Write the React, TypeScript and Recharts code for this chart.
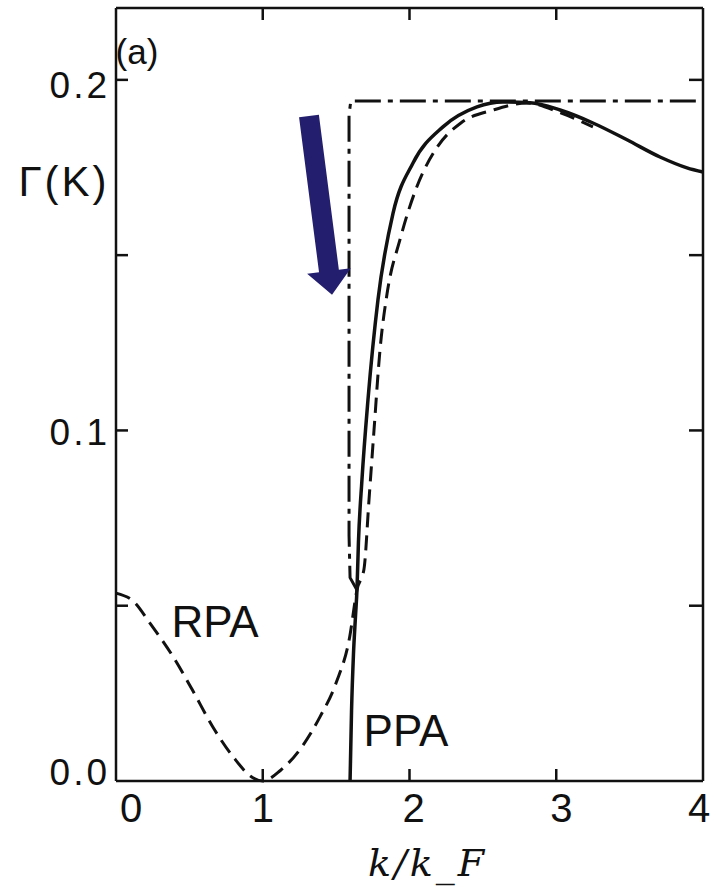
import React from 'react';
import { LineChart, Line, XAxis, YAxis, ReferenceLine, ReferenceDot } from 'recharts';

// RPA curve (dashed)
const rpaK = [0, 0.12, 0.23, 0.39, 0.52, 0.66, 0.8, 0.93, 1.0, 1.12, 1.25, 1.39, 1.5, 1.592, 1.642, 1.69, 1.724, 1.758, 1.799, 1.847, 1.935, 2.05, 2.19, 2.35, 2.57, 2.8, 3.03, 3.25];
const rpaG = [0.0536, 0.0512, 0.0451, 0.0354, 0.026, 0.0154, 0.0068, 0.001, 0, 0.003, 0.0088, 0.0183, 0.028, 0.041, 0.0545, 0.0605, 0.0802, 0.1, 0.123, 0.139, 0.1544, 0.1695, 0.1809, 0.1877, 0.1914, 0.1934, 0.1906, 0.1866];

// PPA curve (solid)
const ppaK = [1.595, 1.605, 1.618, 1.632, 1.642, 1.652, 1.676, 1.717, 1.785, 1.888, 2.024, 2.228, 2.46, 2.637, 2.821, 3.026, 3.25, 3.482, 3.707, 3.891, 4.0];
const ppaG = [0, 0.02, 0.036, 0.047, 0.0545, 0.068, 0.0859, 0.1087, 0.1372, 0.162, 0.1763, 0.1866, 0.1923, 0.1937, 0.1935, 0.1914, 0.1877, 0.1829, 0.178, 0.1749, 0.1737];

// dash-dot step curve
const stepK = [1.642, 1.595, 1.588, 1.588, 1.6, 4.0];
const stepG = [0.0545, 0.058, 0.07, 0.19, 0.194, 0.194];

const xTicks = [0, 1, 2, 3, 4];
const xTickLabels = ['0', '1', '2', '3', '4'];
const yTicks = [0, 0.05, 0.1, 0.15, 0.2];
const yTickLabels = ['0.0', '', '0.1', '', '0.2'];
const innerTicksX = [1, 2, 3];
const innerTicksY = [0.05, 0.1, 0.15, 0.2];

const rpaData = rpaK.map((k, i) => ({ k, g: rpaG[i] }));
const ppaData = ppaK.map((k, i) => ({ k, g: ppaG[i] }));
const stepData = stepK.map((k, i) => ({ k, g: stepG[i] }));

const INK = '#111';
const FONT = '"Liberation Sans", Arial, sans-serif';
const AXIS = { stroke: INK, strokeWidth: 2.5 };
const MARGIN = { top: 8, right: 13, bottom: 0, left: 16 };

// bottom labels + inward ticks on the bottom and top frame edges
const BottomTick = (props: any) => {
  const { x, y, payload } = props;
  const i = xTicks.indexOf(payload.value);
  const shift = [15, 0, 4, 5, -4][i] ?? 0;
  const inner = innerTicksX.includes(payload.value);
  return (
    <g>
      {inner && <line x1={x} x2={x} y1={y} y2={y - 12} stroke={INK} strokeWidth={2.5} />}
      {inner && <line x1={x} x2={x} y1={MARGIN.top} y2={MARGIN.top + 12} stroke={INK} strokeWidth={2.5} />}
      <text x={x + shift} y={y + 41} textAnchor="middle" fontSize={40} fontFamily={FONT} fill={INK}>
        {xTickLabels[i]}
      </text>
    </g>
  );
};

const LeftTick = (props: any) => {
  const { x, y, payload } = props;
  const i = yTicks.indexOf(payload.value);
  const dy = [4, 0, 15, 0, 18][i] ?? 12;
  return (
    <g>
      {innerTicksY.includes(payload.value) && <line x1={x} x2={x + 12} y1={y} y2={y} stroke={INK} strokeWidth={2.5} />}
      <text x={x - 6} y={y + dy} textAnchor="end" fontSize={37} fontFamily={FONT} fill={INK} letterSpacing={3}>
        {yTickLabels[i]}
      </text>
    </g>
  );
};

const ArrowShape = (p: any) => {
  const { x1, y1, x2, y2 } = p;
  const dx = x2 - x1;
  const dy = y2 - y1;
  const len = Math.hypot(dx, dy);
  const ux = dx / len;
  const uy = dy / len;
  const nx = -uy;
  const ny = ux;
  const head = 24;
  const shaft = 10;
  const wing = 22;
  const bx = x2 - ux * head;
  const by = y2 - uy * head;
  const pts = [
    [x1 + nx * shaft, y1 + ny * shaft],
    [bx + nx * shaft, by + ny * shaft],
    [bx + nx * wing, by + ny * wing],
    [x2, y2],
    [bx - nx * wing, by - ny * wing],
    [bx - nx * shaft, by - ny * shaft],
    [x1 - nx * shaft, y1 - ny * shaft],
  ];
  return <polygon points={pts.map((q) => q.join(',')).join(' ')} fill="#231f6e" />;
};

const note = (value: string, size: number, extra: any = {}) => ({
  value,
  position: 'center' as const,
  fontSize: size,
  fontFamily: FONT,
  fill: INK,
  ...extra,
});

export default function App() {
  return (
    <div style={{ position: 'absolute', left: 0, top: 0, background: '#fff' }}>
      <LineChart width={716} height={893} margin={MARGIN}>
        <XAxis
          xAxisId={0}
          dataKey="k"
          type="number"
          domain={[0, 4]}
          ticks={xTicks}
          interval={0}
          height={112}
          tickLine={false}
          tickSize={0}
          tickMargin={0}
          axisLine={AXIS}
          tick={<BottomTick />}
          label={{
            content: (p: any) => (
              <text
                x={p.viewBox.x + p.viewBox.width / 2 + 18}
                y={p.viewBox.y + 95}
                textAnchor="middle"
                fontSize={38}
                fontStyle="italic"
                fontFamily='"DejaVu Serif", serif'
                letterSpacing={3}
                fill={INK}
              >
                k/k_F
              </text>
            ),
          }}
        />
        <XAxis xAxisId="top" dataKey="k" type="number" domain={[0, 4]} orientation="top" mirror axisLine={AXIS} tickLine={false} tick={false} />
        <YAxis
          yAxisId={0}
          type="number"
          domain={[0, 0.2205]}
          ticks={yTicks}
          interval={0}
          width={100}
          tickLine={false}
          tickSize={0}
          tickMargin={0}
          axisLine={AXIS}
          tick={<LeftTick />}
        />
        <YAxis yAxisId="right" type="number" domain={[0, 0.2205]} ticks={innerTicksY} interval={0} orientation="right" mirror axisLine={AXIS} tickSize={14} tickLine={AXIS} tickFormatter={() => ''} />

        <Line data={rpaData} dataKey="g" type="monotone" stroke={INK} strokeWidth={3} strokeDasharray="15 8" dot={false} isAnimationActive={false} />
        <Line data={stepData} dataKey="g" xAxisId="top" yAxisId="right" type="linear" stroke={INK} strokeWidth={3} strokeDasharray="26 7 5 7" dot={false} isAnimationActive={false} />
        <Line data={ppaData} dataKey="g" type="monotone" stroke={INK} strokeWidth={3.5} dot={false} isAnimationActive={false} />

        <ReferenceLine
          segment={[
            { x: 1.315, y: 0.1897 },
            { x: 1.472, y: 0.1387 },
          ]}
          ifOverflow="visible"
          shape={ArrowShape}
        />

        <ReferenceDot x={0.143} y={0.208} r={0} ifOverflow="visible" label={note('(a)', 35)} />
        <ReferenceDot x={0.675} y={0.0456} r={0} ifOverflow="visible" label={note('RPA', 44)} />
        <ReferenceDot x={1.976} y={0.0143} r={0} ifOverflow="visible" label={note('PPA', 44)} />
        <ReferenceDot x={-0.354} y={0.1712} r={0} ifOverflow="visible" label={note('Γ(K)', 42, { letterSpacing: 3 })} />
      </LineChart>
    </div>
  );
}
